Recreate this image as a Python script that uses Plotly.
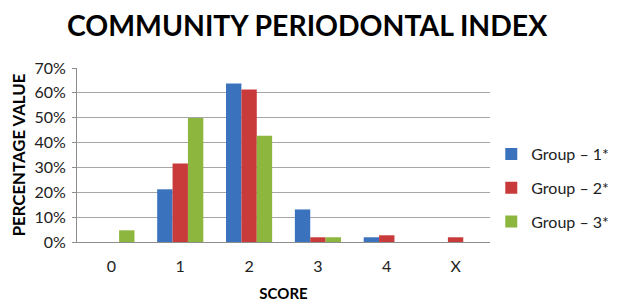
import plotly.graph_objects as go

categories = ["0", "1", "2", "3", "4", "X"]
group1 = [0.0, 21.2, 63.8, 13.1, 1.9, 0.0]
group2 = [0.0, 31.6, 61.4, 1.9, 2.7, 1.9]
group3 = [4.7, 49.9, 42.7, 1.9, 0.0, 0.0]
series_names = ["Group – 1*", "Group – 2*", "Group – 3*"]
colors = ["#3A72BD", "#C93B3A", "#8DB63F"]
y_ticks = [0, 10, 20, 30, 40, 50, 60, 70]
y_tick_labels = [f"{v}%" for v in y_ticks]

fig = go.Figure()
for i, (name, vals, col) in enumerate(zip(series_names, [group1, group2, group3], colors)):
    fig.add_trace(go.Bar(
        x=categories, y=vals, name=name, marker=dict(color=col, line=dict(width=0)),
        legendgroup=f"g{i}",
    ))

font_family = "Lato, Open Sans, sans-serif"
fig.update_layout(
    width=618, height=303,
    margin=dict(l=69, r=136, t=60, b=69),
    paper_bgcolor="white", plot_bgcolor="white",
    barmode="group", bargap=0.33, bargroupgap=0,
    title=dict(text="<b>COMMUNITY PERIODONTAL INDEX</b>", x=0.484, xanchor="center",
               y=0.94, yanchor="middle", font=dict(family=font_family, size=28.4, color="black")),
    font=dict(family=font_family, size=16, color="#222"),
    legend=dict(xref="container", x=0.782, xanchor="left", y=0.31, yanchor="middle",
                tracegroupgap=10, font=dict(size=16, color="#222"),
                bgcolor="rgba(0,0,0,0)"),
    xaxis=dict(showline=True, linecolor="#8C8C8C", linewidth=1, automargin=False,
               ticks="", tickfont=dict(size=16), ticklabelstandoff=10,
               title=dict(text="<b>SCORE</b>", font=dict(size=15, color="black"), standoff=14)),
    yaxis=dict(range=[0, 70], tickvals=y_ticks, ticktext=y_tick_labels, automargin=False,
               showgrid=True, gridcolor="#A6A6A6", gridwidth=1,
               showline=True, linecolor="#8C8C8C", linewidth=1,
               ticks="outside", ticklen=4, tickcolor="#8C8C8C", tickfont=dict(size=16),
               ticklabelstandoff=3, zeroline=False,
               title=dict(text="<b>PERCENTAGE VALUE</b>", font=dict(size=16.8, color="black"), standoff=4)),
)

fig.write_html("out.html")
